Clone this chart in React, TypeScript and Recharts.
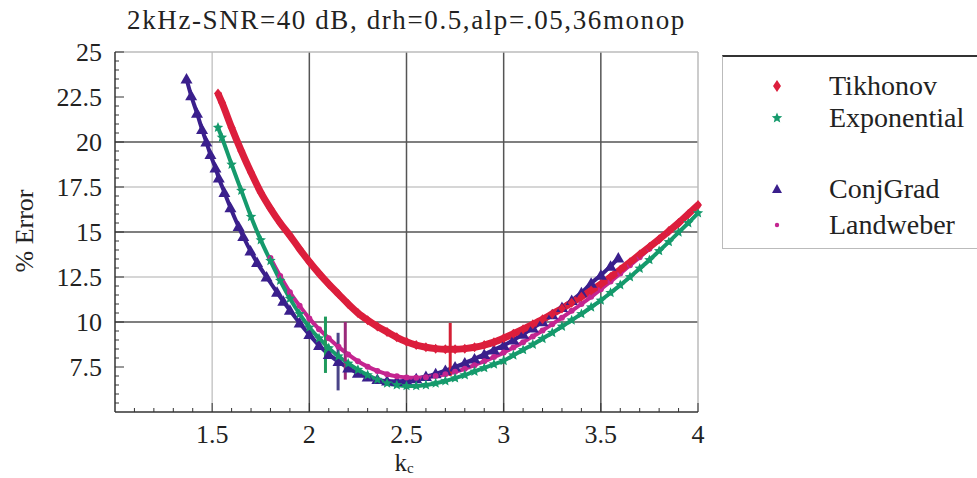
import { ComposedChart, Line, XAxis, YAxis, ReferenceLine, CartesianGrid } from "recharts"

// values
const tikhonovK = [1.53, 1.55, 1.6, 1.65, 1.7, 1.75, 1.8, 1.85, 1.9, 1.95, 2.0, 2.05, 2.1, 2.15, 2.2, 2.25, 2.3, 2.35, 2.4, 2.45, 2.5, 2.55, 2.6, 2.65, 2.7, 2.75, 2.8, 2.85, 2.9, 2.95, 3.0, 3.05, 3.1, 3.15, 3.2, 3.25, 3.3, 3.35, 3.4, 3.45, 3.5, 3.55, 3.6, 3.65, 3.7, 3.75, 3.8, 3.85, 3.9, 3.95, 4.0]
const tikhonovErr = [22.7, 22.2, 20.8, 19.5, 18.3, 17.2, 16.3, 15.5, 14.8, 14.05, 13.35, 12.7, 12.1, 11.55, 11.0, 10.5, 10.1, 9.75, 9.45, 9.15, 8.9, 8.72, 8.6, 8.52, 8.48, 8.48, 8.52, 8.6, 8.72, 8.88, 9.1, 9.35, 9.6, 9.87, 10.15, 10.45, 10.75, 11.07, 11.4, 11.75, 12.1, 12.5, 12.9, 13.32, 13.75, 14.17, 14.6, 15.05, 15.5, 16.0, 16.5]

const exponentialK = [1.53, 1.55, 1.6, 1.65, 1.7, 1.75, 1.8, 1.85, 1.9, 1.95, 2.0, 2.05, 2.1, 2.15, 2.2, 2.25, 2.3, 2.35, 2.4, 2.45, 2.5, 2.55, 2.6, 2.65, 2.7, 2.75, 2.8, 2.85, 2.9, 2.95, 3.0, 3.05, 3.1, 3.15, 3.2, 3.25, 3.3, 3.35, 3.4, 3.45, 3.5, 3.55, 3.6, 3.65, 3.7, 3.75, 3.8, 3.85, 3.9, 3.95, 4.0]
const exponentialErr = [20.8, 20.25, 18.75, 17.3, 15.85, 14.55, 13.4, 12.3, 11.3, 10.45, 9.7, 9.1, 8.55, 8.1, 7.7, 7.35, 7.05, 6.8, 6.6, 6.5, 6.45, 6.45, 6.5, 6.6, 6.72, 6.88, 7.05, 7.25, 7.45, 7.65, 7.85, 8.15, 8.45, 8.75, 9.07, 9.4, 9.75, 10.1, 10.45, 10.82, 11.2, 11.62, 12.05, 12.5, 12.97, 13.45, 13.95, 14.45, 14.98, 15.5, 16.05]

const conjGradK = [1.368, 1.392, 1.422, 1.448, 1.47, 1.491, 1.517, 1.534, 1.563, 1.594, 1.636, 1.66, 1.697, 1.731, 1.78, 1.834, 1.866, 1.9, 1.95, 2.0, 2.05, 2.1, 2.15, 2.2, 2.25, 2.3, 2.35, 2.4, 2.45, 2.5, 2.55, 2.6, 2.65, 2.7, 2.75, 2.8, 2.85, 2.9, 2.95, 3.0, 3.05, 3.1, 3.15, 3.2, 3.25, 3.3, 3.35, 3.4, 3.45, 3.5, 3.55, 3.59]
const conjGradErr = [23.5, 22.57, 21.6, 20.7, 20.0, 19.3, 18.55, 18.0, 17.2, 16.35, 15.3, 14.75, 13.95, 13.3, 12.5, 11.65, 11.15, 10.65, 9.95, 9.3, 8.7, 8.2, 7.8, 7.45, 7.15, 6.95, 6.8, 6.72, 6.7, 6.75, 6.85, 6.97, 7.12, 7.3, 7.5, 7.72, 7.95, 8.2, 8.45, 8.7, 9.0, 9.32, 9.66, 10.02, 10.4, 10.8, 11.2, 11.62, 12.15, 12.6, 13.1, 13.55]

const landweberK = [1.8, 1.85, 1.9, 1.95, 2.0, 2.05, 2.1, 2.15, 2.2, 2.25, 2.3, 2.35, 2.4, 2.45, 2.5, 2.55, 2.6, 2.65, 2.7, 2.75, 2.8, 2.85, 2.9, 2.95, 3.0, 3.05, 3.1, 3.15, 3.2, 3.25, 3.3, 3.35, 3.4, 3.45, 3.5, 3.55, 3.6, 3.65, 3.7, 3.75, 3.8, 3.85, 3.9, 3.95, 4.0]
const landweberErr = [13.55, 12.55, 11.65, 10.9, 10.2, 9.6, 9.1, 8.62, 8.2, 7.82, 7.52, 7.28, 7.1, 6.98, 6.92, 6.9, 6.93, 7.0, 7.1, 7.23, 7.4, 7.6, 7.82, 8.05, 8.3, 8.58, 8.88, 9.2, 9.53, 9.88, 10.24, 10.62, 11.0, 11.4, 11.82, 12.25, 12.7, 13.15, 13.6, 14.07, 14.55, 15.03, 15.52, 16.02, 16.5]

// stopping-point markers: Tikhonov, Exponential, ConjGrad, Landweber
const stopK = [2.725, 2.083, 2.148, 2.185]
const stopLow = [7.0, 7.17, 6.2, 6.8]
const stopHigh = [9.95, 10.3, 9.4, 10.0]

const seriesNames = ["Tikhonov", "Exponential", "ConjGrad", "Landweber"]

const xLabels = [1.5, 2, 2.5, 3, 3.5, 4]
const xTicks = [1.1, 1.2, 1.3, 1.4, 1.5, 1.6, 1.7, 1.8, 1.9, 2, 2.1, 2.2, 2.3, 2.4, 2.5, 2.6, 2.7, 2.8, 2.9, 3, 3.1, 3.2, 3.3, 3.4, 3.5, 3.6, 3.7, 3.8, 3.9, 4]
const yLabels = [7.5, 10, 12.5, 15, 17.5, 20, 22.5, 25]
const yTicks = [5.5, 6, 6.5, 7, 7.5, 8, 8.5, 9, 9.5, 10, 10.5, 11, 11.5, 12, 12.5, 13, 13.5, 14, 14.5, 15, 15.5, 16, 16.5, 17, 17.5, 18, 18.5, 19, 19.5, 20, 20.5, 21, 21.5, 22, 22.5, 23, 23.5, 24, 24.5, 25]

const RED = "#dc1e3c"
const GREEN = "#159a6c"
const INDIGO = "#3a1f8c"
const MAGENTA = "#c42590"
const stopColors = ["#d42035", "#1f9a5c", "#4a4488", "#9a2a7a"]

const FONT = '"Liberation Serif", Tinos, "DejaVu Serif", serif'
const PLOT_LEFT = 115
const PLOT_BOTTOM = 412

const toPoints = (k: number[], err: number[]) => k.map((x, i) => ({ x, y: err[i] }))

const tikhonov = toPoints(tikhonovK, tikhonovErr)
const exponential = toPoints(exponentialK, exponentialErr)
const conjGrad = toPoints(conjGradK, conjGradErr)
const landweber = toPoints(landweberK, landweberErr)

function starPath(cx: number, cy: number, r: number) {
  let d = ""
  for (let i = 0; i < 10; i++) {
    const rr = i % 2 === 0 ? r : r * 0.45
    const a = -Math.PI / 2 + (i * Math.PI) / 5
    d += `${i === 0 ? "M" : "L"}${cx + rr * Math.cos(a)},${cy + rr * Math.sin(a)}`
  }
  return d + "Z"
}

const diamondDot = (p: any) => (
  <path key={`d-${p.index}`} d={`M${p.cx},${p.cy - 5}L${p.cx + 4},${p.cy}L${p.cx},${p.cy + 5}L${p.cx - 4},${p.cy}Z`} fill={RED} />
)
const starDot = (p: any) => <path key={`s-${p.index}`} d={starPath(p.cx, p.cy, 5.5)} fill={GREEN} />
const triangleDot = (p: any) => (
  <path key={`t-${p.index}`} d={`M${p.cx},${p.cy - 6}L${p.cx + 6},${p.cy + 4.5}L${p.cx - 6},${p.cy + 4.5}Z`} fill={INDIGO} />
)
const roundDot = (p: any) => <circle key={`c-${p.index}`} cx={p.cx} cy={p.cy} r={3} fill={MAGENTA} />

function XTick({ x, payload }: any) {
  const major = xLabels.includes(payload.value)
  return (
    <g>
      <line x1={x} x2={x} y1={PLOT_BOTTOM} y2={PLOT_BOTTOM - (major ? 9 : 4)} stroke="#333" />
      {major && (
        <text x={x} y={PLOT_BOTTOM + 31} textAnchor="middle" fontFamily={FONT} fontSize={26} fill="#222">
          {payload.value}
        </text>
      )}
    </g>
  )
}

function YTick({ y, payload }: any) {
  const major = yLabels.includes(payload.value)
  return (
    <g>
      <line x1={PLOT_LEFT} x2={PLOT_LEFT + (major ? 9 : 4)} y1={y} y2={y} stroke="#333" />
      {major && (
        <text x={102} y={y + 9} textAnchor="end" fontFamily={FONT} fontSize={26} fill="#222">
          {payload.value}
        </text>
      )}
    </g>
  )
}

function XTitle() {
  return (
    <text x={404} y={471} textAnchor="middle" fontFamily={FONT} fontSize={25} fill="#222">
      k<tspan fontSize={15} dy={2}>c</tspan>
    </text>
  )
}

function YTitle() {
  return (
    <text x={33} y={231} transform="rotate(-90 33 231)" textAnchor="middle" fontFamily={FONT} fontSize={26} fill="#222">
      % Error
    </text>
  )
}

function LegendSymbol({ index }: { index: number }) {
  return (
    <svg width={20} height={20} style={{ display: "block" }}>
      {index === 0 && <path d="M10,4L14,10L10,16L6,10Z" fill={RED} />}
      {index === 1 && <path d={starPath(10, 10, 5.5)} fill={GREEN} />}
      {index === 2 && <path d="M10,5L15,14L5,14Z" fill={INDIGO} />}
      {index === 3 && <circle cx={10} cy={10} r={2.2} fill={MAGENTA} />}
    </svg>
  )
}

const legendRows = [84, 116, 187, 223]

export default function App() {
  return (
    <div style={{ position: "absolute", left: 0, top: 0, width: 977, height: 478, background: "#fff", overflow: "hidden" }}>
      <div
        style={{
          position: "absolute",
          left: 0,
          width: 813,
          top: 5,
          textAlign: "center",
          fontFamily: FONT,
          fontSize: 27,
          letterSpacing: 1.6,
          color: "#222",
          whiteSpace: "nowrap",
        }}
      >
        2kHz-SNR=40 dB, drh=0.5,alp=.05,36monop
      </div>

      <ComposedChart width={977} height={478} margin={{ top: 52, right: 279, bottom: 36, left: 55 }}>
        <CartesianGrid horizontalValues={[12.5, 17.5]} verticalValues={[1.5]} stroke="#c8c8c8" strokeWidth={1.5} />
        <CartesianGrid horizontalValues={[10, 15, 20]} verticalValues={[2, 2.5, 3, 3.5]} stroke="#555" strokeWidth={1.5} />
        <CartesianGrid horizontalValues={[25]} verticalValues={[4]} stroke="#bbb" strokeWidth={1.5} />
        <XAxis
          dataKey="x"
          type="number"
          domain={[1, 4]}
          ticks={xTicks}
          interval={0}
          height={30}
          tickLine={false}
          axisLine={{ stroke: "#333", strokeWidth: 1.5 }}
          tick={<XTick />}
          allowDuplicatedCategory={false}
          label={<XTitle />}
        />
        <YAxis
          type="number"
          domain={[5, 25]}
          ticks={yTicks}
          interval={0}
          width={60}
          tickLine={false}
          axisLine={{ stroke: "#333", strokeWidth: 1.5 }}
          tick={<YTick />}
          label={<YTitle />}
        />
        <Line data={conjGrad} dataKey="y" name={seriesNames[2]} type="monotone" stroke={INDIGO} strokeWidth={4} dot={triangleDot} activeDot={false} isAnimationActive={false} />
        <Line data={landweber} dataKey="y" name={seriesNames[3]} type="monotone" stroke={MAGENTA} strokeWidth={4} dot={roundDot} activeDot={false} isAnimationActive={false} />
        <Line data={exponential} dataKey="y" name={seriesNames[1]} type="monotone" stroke={GREEN} strokeWidth={4} dot={starDot} activeDot={false} isAnimationActive={false} />
        <Line data={tikhonov} dataKey="y" name={seriesNames[0]} type="monotone" stroke={RED} strokeWidth={7} dot={diamondDot} activeDot={false} isAnimationActive={false} />
        {stopK.map((k, i) => (
          <ReferenceLine
            key={`stop-${i}`}
            segment={[
              { x: k, y: stopLow[i] },
              { x: k, y: stopHigh[i] },
            ]}
            stroke={stopColors[i]}
            strokeWidth={3}
          />
        ))}
      </ComposedChart>

      <div
        style={{
          position: "absolute",
          left: 722,
          top: 55,
          width: 280,
          height: 191,
          borderTop: "2px solid #333",
          borderLeft: "1px solid #bbb",
          borderBottom: "1px solid #bbb",
          background: "#fff",
          fontFamily: FONT,
          fontSize: 28,
          color: "#222",
        }}
      >
        {seriesNames.map((name, i) => (
          <div
            key={name}
            style={{ position: "absolute", left: 44, top: legendRows[i] - 55 - 18, height: 36, display: "flex", alignItems: "center", whiteSpace: "nowrap" }}
          >
            <LegendSymbol index={i} />
            <span style={{ marginLeft: 42 }}>{name}</span>
          </div>
        ))}
      </div>
    </div>
  )
}
